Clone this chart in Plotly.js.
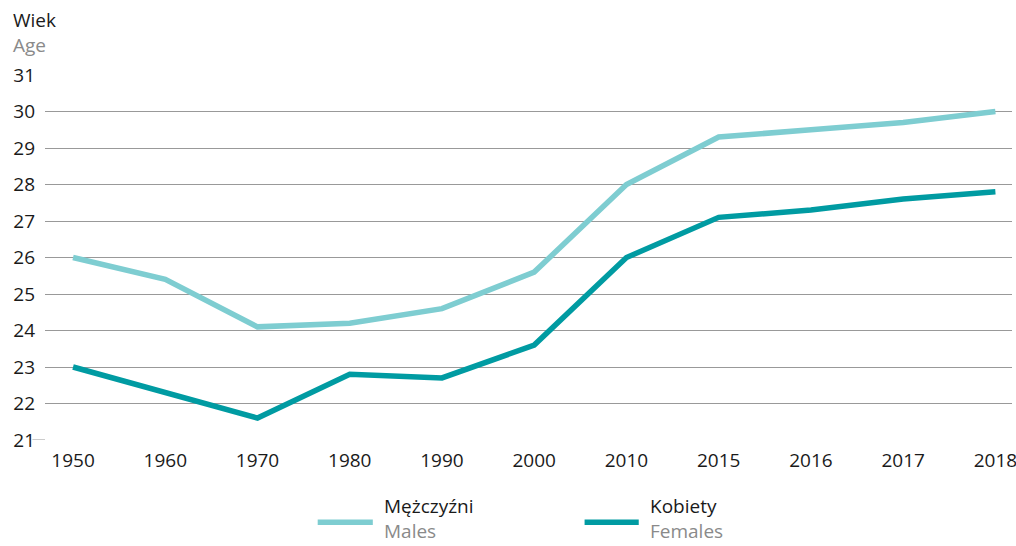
<!DOCTYPE html>
<html>
<head>
<meta charset="utf-8">
<script src="https://cdn.plot.ly/plotly-3.0.1.min.js"></script>
<style>html,body{margin:0;padding:0;background:#fff;}#chart{width:1016px;height:546px;}</style>
</head>
<body>
<div id="chart"></div>
<script>
const years = ['1950','1960','1970','1980','1990','2000','2010','2015','2016','2017','2018'];
const males = [26.0, 25.4, 24.1, 24.2, 24.6, 25.6, 28.0, 29.3, 29.5, 29.7, 30.0];
const females = [23.0, 22.3, 21.6, 22.8, 22.7, 23.6, 26.0, 27.1, 27.3, 27.6, 27.8];
const yTicks = [21,22,23,24,25,26,27,28,29,30,31];
const maleName = 'Mężczyźni', maleNameEn = 'Males';
const femaleName = 'Kobiety', femaleNameEn = 'Females';
const maleColor = '#7ecdd1', femaleColor = '#009ba2';
const font = '"Open Sans", "Noto Sans", sans-serif';
const fs = 19;
const grey = '#8a8a8a';

const traces = [
  {x: years, y: males, type: 'scatter', mode: 'lines', name: maleName,
   line: {color: maleColor, width: 5.5, shape: 'linear'}, showlegend: false},
  {x: years, y: females, type: 'scatter', mode: 'lines', name: femaleName,
   line: {color: femaleColor, width: 5.5, shape: 'linear'}, showlegend: false}
];

function twoLine(pl, en) {
  return pl + '<br><span style="color:' + grey + '">' + en + '</span>';
}

const layout = {
  width: 1016, height: 546,
  margin: {l: 45, r: 4, t: 75, b: 106},
  paper_bgcolor: '#fff', plot_bgcolor: '#fff',
  font: {family: font, size: fs, color: '#1a1a1a'},
  xaxis: {type: 'category', range: [-0.304, 10.18], showgrid: false, zeroline: false,
          showline: false, ticks: '', ticklabelstandoff: 7,
          tickfont: {family: font, size: fs, color: '#1a1a1a'}},
  yaxis: {range: [21, 31], tickvals: yTicks, showgrid: true, gridcolor: '#999999', gridwidth: 1,
          zeroline: false, showline: false, ticks: '', ticklabelstandoff: 9,
          tickfont: {family: font, size: fs, color: '#1a1a1a'}},
  shapes: [
    {type: 'line', xref: 'paper', yref: 'y', x0: -0.013, x1: 0, y0: 21, y1: 21, line: {color: '#999999', width: 1}},
    {type: 'line', xref: 'paper', yref: 'paper', x0: 0.282, x1: 0.339, y0: -0.225, y1: -0.225, line: {color: maleColor, width: 5.5}},
    {type: 'line', xref: 'paper', yref: 'paper', x0: 0.558, x1: 0.614, y0: -0.225, y1: -0.225, line: {color: femaleColor, width: 5.5}}
  ],
  annotations: [
    {xref: 'paper', yref: 'paper', x: -0.034, y: 1.1165, xanchor: 'left', yanchor: 'middle', align: 'left', showarrow: false,
     borderpad: 0, text: twoLine('Wiek', 'Age'), font: {family: font, size: fs, color: '#1a1a1a'}},
    {xref: 'paper', yref: 'paper', x: 0.35, y: -0.2164, xanchor: 'left', yanchor: 'middle', align: 'left', showarrow: false,
     borderpad: 0, text: twoLine(maleName, maleNameEn), font: {family: font, size: fs, color: '#1a1a1a'}},
    {xref: 'paper', yref: 'paper', x: 0.625, y: -0.2164, xanchor: 'left', yanchor: 'middle', align: 'left', showarrow: false,
     borderpad: 0, text: twoLine(femaleName, femaleNameEn), font: {family: font, size: fs, color: '#1a1a1a'}}
  ]
};

Plotly.newPlot('chart', traces, layout, {displayModeBar: false, staticPlot: true});
</script>
</body>
</html>
